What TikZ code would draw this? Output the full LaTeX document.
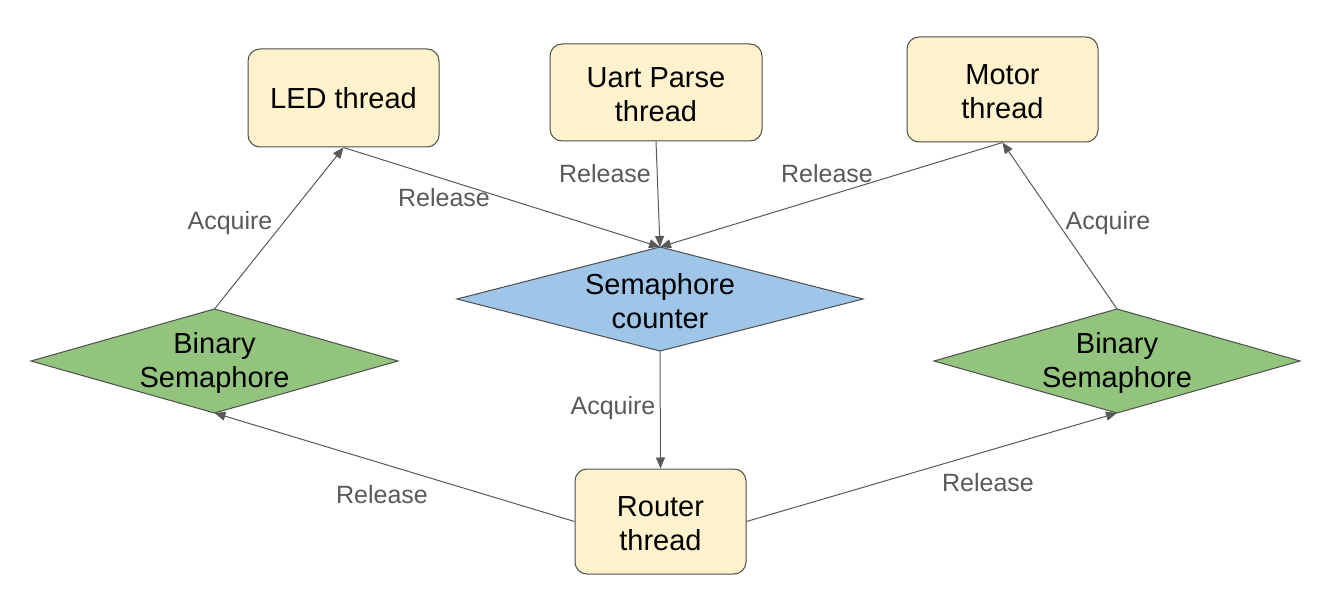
\documentclass[tikz,border=0pt]{standalone}
\usepackage{fontspec}
\setmainfont{Liberation Sans}
\usetikzlibrary{shapes.geometric,arrows.meta}
\definecolor{boxfill}{HTML}{FFF2CC}
\definecolor{boxline}{HTML}{4D4D4D}
\definecolor{bluefill}{HTML}{9FC5E8}
\definecolor{greenfill}{HTML}{93C47D}
\definecolor{edgecol}{HTML}{595959}
\definecolor{lblcol}{HTML}{595959}
\tikzset{
  threadbox/.style={draw=boxline, fill=boxfill, line width=1pt, rounded corners=12pt,
    align=center, inner sep=0pt, font=\fontsize{29}{34}\selectfont},
  diam/.style={diamond, draw=boxline, line width=1pt, inner sep=0pt, outer sep=0pt},
  diamtext/.style={align=center, inner sep=0pt, yshift=-2pt, font=\fontsize{29}{34}\selectfont},
  conn/.style={draw=edgecol, line width=1pt, -{Triangle[length=11pt,width=9pt]}},
  lbl/.style={text=lblcol, inner sep=0pt, yshift=-1pt, font=\fontsize{25}{28}\selectfont},
}
\begin{document}
\begin{tikzpicture}[x=1pt,y=-1pt]
\useasboundingbox (0,0) rectangle (1326,599);
% thread boxes
\node[threadbox, minimum width=191pt, minimum height=98pt] (led) at (343.5,98) {LED thread};
\node[threadbox, minimum width=212pt, minimum height=97pt] (uart) at (656,92.5) {};
\node[diamtext] (uartt) at (656,92.5) {Uart Parse\\thread};
\node[threadbox, minimum width=191pt, minimum height=105pt] (motor) at (1002.5,89.5) {};
\node[diamtext] (motort) at (1002.5,89.5) {Motor\\thread};
\node[threadbox, minimum width=171pt, minimum height=105pt] (router) at (660.5,521.5) {};
\node[diamtext] (routert) at (660.5,521.5) {Router\\thread};
% diamonds
\node[diam, fill=bluefill, minimum width=406pt, minimum height=104pt] (sem) at (660,299) {};
\node[diamtext] (semt) at (660,299) {Semaphore\\counter};
\node[diam, fill=greenfill, minimum width=367pt, minimum height=104pt] (binl) at (214.5,361) {};
\node[diamtext] (binlt) at (214.5,361) {Binary\\Semaphore};
\node[diam, fill=greenfill, minimum width=366pt, minimum height=104pt] (binr) at (1117,361) {};
\node[diamtext] (binrt) at (1117,361) {Binary\\Semaphore};
% connectors
\draw[conn] (led.south) -- (sem.north);
\draw[conn] (uart.south) -- (sem.north);
\draw[conn] (motor.south) -- (sem.north);
\draw[conn] (sem.south) -- (router.north);
\draw[conn] (binl.north) -- (led.south);
\draw[conn] (binr.north) -- (motor.south);
\draw[conn] (router.west) -- (binl.south);
\draw[conn] (router.east) -- (binr.south);
% labels
\node[lbl] (l1) at (444,197) {Release};
\node[lbl] (l2) at (605,173) {Release};
\node[lbl] (l3) at (827,173) {Release};
\node[lbl] (l4) at (613,407) {Acquire};
\node[lbl] (l5) at (230,222) {Acquire};
\node[lbl] (l6) at (1108,222) {Acquire};
\node[lbl] (l7) at (382,494) {Release};
\node[lbl] (l8) at (988,482) {Release};
\end{tikzpicture}
\end{document}
